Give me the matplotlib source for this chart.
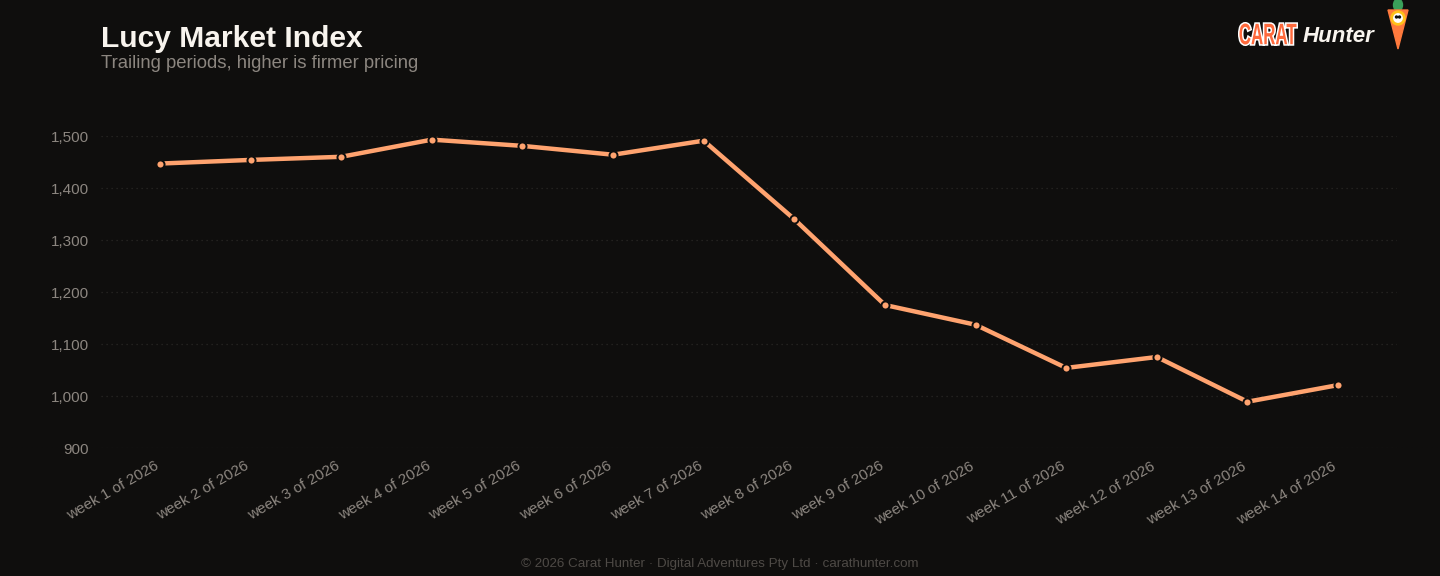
import matplotlib
matplotlib.use('Agg')
import matplotlib.pyplot as plt
import matplotlib.transforms as mtransforms
from matplotlib.patches import Polygon, Ellipse, Circle, PathPatch
from matplotlib.textpath import TextPath
from matplotlib.font_manager import FontProperties
from matplotlib.ticker import FuncFormatter

plt.rcParams['font.family'] = ['Liberation Sans', 'DejaVu Sans']

# ── Data ──────────────────────────────────────────────────────────────────────
weeks  = [f"week {i} of 2026" for i in range(1, 15)]
index  = [1447, 1454, 1460, 1493, 1481, 1464, 1491,
          1340, 1175, 1137, 1054, 1075, 989, 1021]
yticks = [900, 1000, 1100, 1200, 1300, 1400, 1500]

BG     = '#0f0e0d'
LINE   = '#ffa36f'
MUTED  = '#8c8680'

fig = plt.figure(figsize=(14.4, 5.76), dpi=100, facecolor=BG)
ax  = fig.add_axes([101/1440, 1-448/576, 1296/1440, 312/576], facecolor=BG)

x = list(range(len(weeks)))
ax.plot(x, index, color=LINE, lw=3.2, solid_capstyle='round', zorder=3,
        clip_on=False)
ax.scatter(x, index, s=34, color=LINE, edgecolor=BG, linewidth=1.4,
           zorder=4, clip_on=False)

ax.set_xlim(-0.65, 13.65)
ax.set_ylim(900, 1500)
ax.set_yticks(yticks)
ax.yaxis.set_major_formatter(FuncFormatter(lambda v, p: f"{int(v):,}"))
ax.set_xticks(x)
ax.set_xticklabels(weeks, rotation=30, ha='right', rotation_mode='anchor')

ax.grid(axis='y', color='#2a2826', lw=0.9, ls=(0, (1, 3)))
ax.set_axisbelow(True)
for s in ax.spines.values():
    s.set_visible(False)
ax.tick_params(axis='both', length=0, colors=MUTED, labelsize=11)
ax.tick_params(axis='y', pad=8.5)
ax.tick_params(axis='x', pad=8)

# nudge the rotated labels a little left so they end under the point
shift = mtransforms.ScaledTranslation(-6/100, 0, fig.dpi_scale_trans)
for lab in ax.get_xticklabels():
    lab.set_transform(lab.get_transform() + shift)

# ── Titles ────────────────────────────────────────────────────────────────────
fig.text(101/1440, 1-47/576, "Lucy Market Index", color='#f8f4ee',
         fontsize=21.6, fontweight='bold', va='baseline')
fig.text(101/1440, 1-68/576, "Trailing periods, higher is firmer pricing",
         color=MUTED, fontsize=13.3, va='baseline')

# ── Footer ────────────────────────────────────────────────────────────────────
fig.text(0.5, 1-564/576,
         "© 2026 Carat Hunter · Digital Adventures Pty Ltd · carathunter.com",
         color='#4e4a46', fontsize=9.6, ha='center', va='center')

# ── Logo ──────────────────────────────────────────────────────────────────────
# "CARAT" squeezed into a narrow box (pixel coordinates)
cax = fig.add_axes([1238/1440, 1-47/576, 60/1440, 26/576])
cax.set_xlim(0, 60)
cax.set_ylim(0, 26)
cax.axis('off')
tp = TextPath((0, 0), "CARAT", size=10,
              prop=FontProperties(family='Liberation Sans', weight='bold'))
bb = tp.get_extents()
tr = (mtransforms.Affine2D().translate(-bb.x0, -bb.y0)
      .scale(57 / bb.width, 21 / bb.height).translate(1.5, 2.5))
carat = tr.transform_path(tp)
cax.add_patch(PathPatch(carat, facecolor='none', edgecolor='#ffffff', lw=2.2))
cax.add_patch(PathPatch(carat, facecolor='#ff6a3d', edgecolor='none'))

fig.text(1303/1440, 1-36/576, "Hunter", color='#f8f4ee', fontsize=16,
         fontweight='bold', style='italic', va='center')

lax = fig.add_axes([1380/1440, 1-52/576, 36/1440, 52/576])
lax.set_xlim(0, 36)
lax.set_ylim(0, 52)
lax.axis('off')
lax.add_patch(Ellipse((18, 47), 9, 12, color='#3aa05a'))
lax.add_patch(Polygon([[8, 42], [28, 42], [18, 3]], closed=True, color='#ff7a3d'))
lax.add_patch(Circle((18, 34), 7, color='#ffc21a'))
lax.add_patch(Circle((18, 34), 4.2, color='#ffffff'))
lax.add_patch(Circle((16.5, 35), 1, color='#111111'))
lax.add_patch(Circle((19.5, 35), 1, color='#111111'))

plt.savefig("out.png", dpi=100, facecolor=BG)
